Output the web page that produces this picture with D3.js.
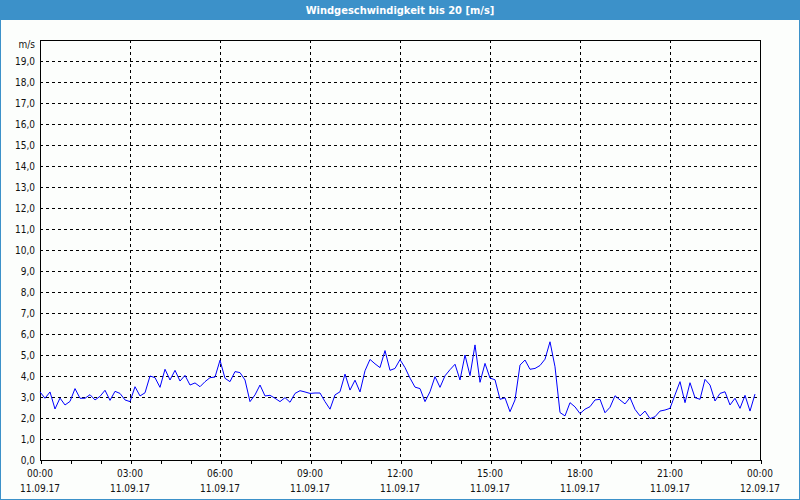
<!DOCTYPE html>
<html><head><meta charset="utf-8">
<script src="https://cdn.jsdelivr.net/npm/d3@7"></script>
<style>body{margin:0;background:#fff}svg{display:block}</style></head>
<body><svg id="c" width="800" height="500"></svg>
<script>
const chartTitle = "Windgeschwindigkeit bis 20 [m/s]";
const unitLabel = "m/s";
const majorHours = [0, 3, 6, 9, 12, 15, 18, 21, 24];
const timeLabels = ["00:00", "03:00", "06:00", "09:00", "12:00", "15:00", "18:00", "21:00", "00:00"];
const dateLabels = ["11.09.17", "11.09.17", "11.09.17", "11.09.17", "11.09.17", "11.09.17", "11.09.17", "11.09.17", "12.09.17"];
const yTickValues = [0,1,2,3,4,5,6,7,8,9,10,11,12,13,14,15,16,17,18,19];
const yTickLabels = ["0,0","1,0","2,0","3,0","4,0","5,0","6,0","7,0","8,0","9,0","10,0","11,0","12,0","13,0","14,0","15,0","16,0","17,0","18,0","19,0"];
const sampleMinutes = 10; // one reading every 10 minutes from 00:00
const windSpeed = [
  3.24,2.94,3.24,2.43,2.95,2.62,2.79,3.40,2.94,2.94,3.11,2.86,3.03,3.32,2.84,3.27,3.17,2.86,
  2.78,3.49,3.05,3.20,4.00,3.92,3.46,4.32,3.81,4.27,3.76,4.03,3.57,3.67,3.49,3.73,3.92,3.95,
  4.75,3.89,3.73,4.21,4.16,3.81,2.78,3.10,3.57,3.05,3.08,2.94,2.78,2.97,2.75,3.17,3.30,3.24,
  3.17,3.19,3.19,2.78,2.42,3.10,3.25,4.09,3.33,3.80,3.24,4.25,4.79,4.58,4.40,5.21,4.27,4.36,
  4.78,4.40,3.90,3.47,3.40,2.78,3.25,3.97,3.46,4.01,4.30,4.56,3.81,5.00,4.02,5.48,3.70,4.60,
  3.90,3.82,2.89,2.96,2.30,2.86,4.52,4.76,4.32,4.36,4.50,4.80,5.63,4.44,2.26,2.10,2.73,2.53,
  2.21,2.42,2.54,2.86,2.89,2.25,2.51,3.06,2.86,2.67,2.97,2.41,2.10,2.33,1.97,2.06,2.33,2.38,
  2.46,3.10,3.73,2.73,3.68,2.97,2.89,3.84,3.57,2.81,3.17,3.25,2.62,2.94,2.46,3.08,2.33,3.14
];

const W = 800, H = 500;
const M = {left: 40, right: 40, top: 40, bottom: 40};
const svg = d3.select("#c");
const font = "'DejaVu Sans Condensed', 'DejaVu Sans', sans-serif";

svg.append("rect").attr("width", W).attr("height", H).attr("fill", "#fcfefc");
svg.append("rect").attr("x", 0).attr("y", 0).attr("width", W).attr("height", 20).attr("fill", "#3c91c9");
svg.append("rect").attr("x", 0.5).attr("y", 0.5).attr("width", W - 1).attr("height", H - 1)
  .attr("fill", "none").attr("stroke", "#3c91c9");
svg.append("text").attr("x", W / 2).attr("y", 14).attr("text-anchor", "middle")
  .attr("fill", "#fff").attr("font-family", font).attr("font-size", 11).attr("font-weight", "bold")
  .text(chartTitle);

const x = d3.scaleLinear().domain([0, 24]).range([M.left, W - M.right]);
const y = d3.scaleLinear().domain([0, 20]).range([H - M.bottom, M.top]);

const g = svg.append("g");
// horizontal grid
g.selectAll("line.hg").data(yTickValues.filter(v => v > 0)).join("line")
  .attr("x1", x(0)).attr("x2", x(24))
  .attr("y1", d => Math.round(y(d)) + 0.5).attr("y2", d => Math.round(y(d)) + 0.5)
  .attr("stroke", "#000").attr("stroke-dasharray", "3,3").attr("shape-rendering", "crispEdges");
// vertical grid
g.selectAll("line.vg").data(majorHours.filter(h => h > 0 && h < 24)).join("line")
  .attr("y1", y(20)).attr("y2", y(0))
  .attr("x1", d => Math.round(x(d)) + 0.5).attr("x2", d => Math.round(x(d)) + 0.5)
  .attr("stroke", "#000").attr("stroke-dasharray", "3,3").attr("shape-rendering", "crispEdges");

// hourly ticks
const ax = d3.axisBottom(x).tickValues(d3.range(0, 25)).tickSize(4).tickFormat("");
const axG = svg.append("g").attr("transform", `translate(0.5,${y(0)})`).call(ax);
axG.select(".domain").remove();
axG.selectAll("line").attr("stroke", "#000").attr("shape-rendering", "crispEdges");

// plot frame
svg.append("rect").attr("x", x(0) + 0.5).attr("y", y(20) + 0.5)
  .attr("width", x(24) - x(0)).attr("height", y(0) - y(20))
  .attr("fill", "none").attr("stroke", "#000").attr("shape-rendering", "crispEdges");

// y labels
svg.selectAll("text.yl").data(yTickValues).join("text")
  .attr("x", x(0) - 5).attr("y", d => y(d) + 4).attr("text-anchor", "end")
  .attr("font-family", font).attr("font-size", 10).attr("fill", "#111")
  .text((d, i) => yTickLabels[i]);
svg.append("text").attr("x", x(0) - 5).attr("y", y(20) + 8).attr("text-anchor", "end")
  .attr("font-family", font).attr("font-size", 10).attr("fill", "#111").text(unitLabel);

// x labels
svg.selectAll("text.xl").data(majorHours).join("text")
  .attr("x", d => x(d)).attr("y", 477).attr("text-anchor", "middle")
  .attr("font-family", font).attr("font-size", 10).attr("fill", "#111")
  .text((d, i) => timeLabels[i]);
svg.selectAll("text.xd").data(majorHours).join("text")
  .attr("x", d => x(d)).attr("y", 492).attr("text-anchor", "middle")
  .attr("font-family", font).attr("font-size", 10).attr("fill", "#111")
  .text((d, i) => dateLabels[i]);

// data line
const line = d3.line().x((d, i) => x(i * sampleMinutes / 60)).y(d => y(d));
svg.append("path").datum(windSpeed).attr("d", line)
  .attr("fill", "none").attr("stroke", "#0000ff").attr("stroke-width", 1);
</script></body></html>
